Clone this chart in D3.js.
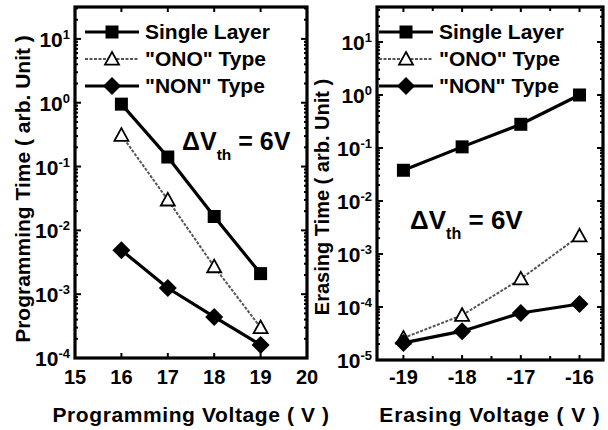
<!DOCTYPE html>
<html>
<head>
<meta charset="utf-8">
<script src="https://cdn.jsdelivr.net/npm/d3@7"></script>
<style>
  html, body { margin: 0; padding: 0; background: #fff; }
  svg { display: block; font-family: "Liberation Sans", Arial, sans-serif; font-weight: bold; }
</style>
</head>
<body>
<svg id="chart" width="608" height="430"></svg>
<script>
// Programming panel data
const progVoltage = [16, 17, 18, 19];
const progSingle = [0.95, 0.141, 0.0165, 0.0021];
const progONO = [0.31, 0.030, 0.0027, 0.00030];
const progNON = [0.0049, 0.00125, 0.00044, 0.00016];
const progXTicks = [15, 16, 17, 18, 19, 20];
const progYTicks = [1e-4, 1e-3, 1e-2, 1e-1, 1e0, 1e1];

// Erasing panel data
const eraseVoltage = [-19, -18, -17, -16];
const eraseSingle = [0.038, 0.105, 0.28, 1.0];
const eraseONO = [0.000026, 0.000070, 0.00034, 0.0022];
const eraseNON = [0.000021, 0.000035, 0.000077, 0.000114];
const eraseXTicks = [-19, -18, -17, -16];
const eraseYTicks = [1e-5, 1e-4, 1e-3, 1e-2, 1e-1, 1e0, 1e1];

const seriesNames = ["Single Layer", "\"ONO\" Type", "\"NON\" Type"];

const svg = d3.select("#chart");

const styles = [
  { marker: "square", stroke: "#000", width: 3.2, dash: null },
  { marker: "triangle", stroke: "#555", width: 2, dash: "3,1.5" },
  { marker: "diamond", stroke: "#000", width: 3.2, dash: null }
];

function drawMarker(g, type, x, y) {
  if (type === "square") {
    g.append("rect").attr("x", x - 6.5).attr("y", y - 6.5).attr("width", 13).attr("height", 13).attr("fill", "#000");
  } else if (type === "triangle") {
    const s = 7;
    g.append("path")
      .attr("d", `M${x},${y - s}L${x + s},${y + s * 0.8}L${x - s},${y + s * 0.8}Z`)
      .attr("fill", "#fff").attr("stroke", "#000").attr("stroke-width", 1.8);
  } else {
    const s = 9;
    g.append("path")
      .attr("d", `M${x},${y - s}L${x + s},${y}L${x},${y + s}L${x - s},${y}Z`)
      .attr("fill", "#000");
  }
}

function sup(textSel, base, exp) {
  textSel.append("tspan").text(base);
  textSel.append("tspan").attr("dy", -8).attr("font-size", 13).text(exp);
}

function drawPanel(cfg) {
  const x = d3.scaleLinear().domain(cfg.xDomain).range([cfg.left, cfg.right]);
  const y = d3.scaleLog().domain(cfg.yDomain).range([cfg.bottom, cfg.top]);
  const g = svg.append("g");

  // Inward ticks on all four sides
  const tickG = g.append("g").attr("stroke", "#000").attr("stroke-width", 2);
  cfg.xMinor.forEach(v => {
    const len = cfg.xTicks.includes(v) ? 5 : 4;
    tickG.append("line").attr("x1", x(v)).attr("x2", x(v)).attr("y1", cfg.bottom).attr("y2", cfg.bottom - len);
    tickG.append("line").attr("x1", x(v)).attr("x2", x(v)).attr("y1", cfg.top).attr("y2", cfg.top + len);
  });
  const [lo, hi] = cfg.yDomain;
  for (let e = Math.floor(Math.log10(lo)); e <= Math.ceil(Math.log10(hi)); e++) {
    for (let m = 1; m <= 9; m++) {
      const v = m * Math.pow(10, e);
      if (v < lo || v > hi) continue;
      const len = m === 1 ? 6 : 3;
      tickG.append("line").attr("x1", cfg.left).attr("x2", cfg.left + len).attr("y1", y(v)).attr("y2", y(v));
      tickG.append("line").attr("x1", cfg.right).attr("x2", cfg.right - len).attr("y1", y(v)).attr("y2", y(v));
    }
  }

  // Frame
  g.append("rect")
    .attr("x", cfg.left).attr("y", cfg.top)
    .attr("width", cfg.right - cfg.left).attr("height", cfg.bottom - cfg.top)
    .attr("fill", "none").attr("stroke", "#000").attr("stroke-width", 3.2);

  // Tick labels
  cfg.xTicks.forEach(v => {
    g.append("text").attr("x", x(v)).attr("y", 384)
      .attr("text-anchor", "middle").attr("font-size", 20).text(v);
  });
  cfg.yTicks.forEach(v => {
    const t = g.append("text").attr("x", cfg.left - 5).attr("y", y(v) + 8)
      .attr("text-anchor", "end").attr("font-size", 21);
    sup(t, "10", Math.round(Math.log10(v)));
  });

  // Axis titles
  g.append("text").attr("x", (cfg.left + cfg.right) / 2).attr("y", 422)
    .attr("text-anchor", "middle").attr("font-size", 21).attr("letter-spacing", cfg.xTitleSpacing)
    .text(cfg.xTitle);
  g.append("text")
    .attr("transform", `translate(${cfg.yTitleX},${cfg.yTitleY}) rotate(-90)`)
    .attr("text-anchor", "middle").attr("font-size", cfg.yTitleSize).text(cfg.yTitle);

  // Series lines and markers
  const line = d3.line().x(d => x(d[0])).y(d => y(d[1]));
  cfg.series.forEach((vals, i) => {
    const st = styles[i];
    const pts = cfg.xs.map((v, j) => [v, vals[j]]);
    g.append("path").datum(pts).attr("d", line)
      .attr("fill", "none").attr("stroke", st.stroke).attr("stroke-width", st.width)
      .attr("stroke-dasharray", st.dash);
  });
  cfg.order.forEach(i => {
    const vals = cfg.series[i];
    cfg.xs.forEach((v, j) => drawMarker(g, styles[i].marker, x(v), y(vals[j])));
  });

  // Legend
  seriesNames.forEach((name, i) => {
    const ly = cfg.legendY + i * 27;
    const st = styles[i];
    g.append("line").attr("x1", cfg.legendX).attr("x2", cfg.legendX + 54)
      .attr("y1", ly).attr("y2", ly)
      .attr("stroke", st.stroke).attr("stroke-width", st.width).attr("stroke-dasharray", st.dash);
    drawMarker(g, st.marker, cfg.legendX + 27, ly);
    g.append("text").attr("x", cfg.legendX + 60).attr("y", ly + 7)
      .attr("font-size", 21).text(name);
  });

  // Threshold shift annotation
  const ann = g.append("text").attr("x", cfg.annX).attr("y", cfg.annY).attr("font-size", cfg.annSize);
  ann.append("tspan").text("\u0394V");
  ann.append("tspan").attr("dy", 10).attr("font-size", cfg.annSize * 0.62).text("th");
  ann.append("tspan").attr("dy", -10).text(" = 6V");
}

drawPanel({
  left: 75, right: 307, top: 7, bottom: 358,
  xDomain: [15, 20], yDomain: [1e-4, Math.pow(10, 1.5)],
  xTicks: progXTicks, xMinor: progXTicks, yTicks: progYTicks,
  xs: progVoltage, series: [progSingle, progONO, progNON], order: [0, 1, 2],
  xTitle: "Programming Voltage ( V )", xTitleSpacing: 0.6,
  yTitle: "Programming Time ( arb. Unit )", yTitleX: 30, yTitleY: 189, yTitleSize: 21,
  legendX: 85, legendY: 32, annX: 182, annY: 150, annSize: 25
});

drawPanel({
  left: 377, right: 603, top: 7, bottom: 360,
  xDomain: [-19.45, -15.6], yDomain: [1e-5, Math.pow(10, 1.66)],
  xTicks: eraseXTicks, xMinor: d3.range(-19, -15.9, 0.5).map(v => Math.round(v * 2) / 2), yTicks: eraseYTicks,
  xs: eraseVoltage, series: [eraseSingle, eraseONO, eraseNON], order: [1, 0, 2],
  xTitle: "Erasing Voltage ( V )", xTitleSpacing: 0.9,
  yTitle: "Erasing Time ( arb. Unit )", yTitleX: 329, yTitleY: 197, yTitleSize: 20,
  legendX: 379, legendY: 32, annX: 410, annY: 229, annSize: 26
});
</script>
</body>
</html>
